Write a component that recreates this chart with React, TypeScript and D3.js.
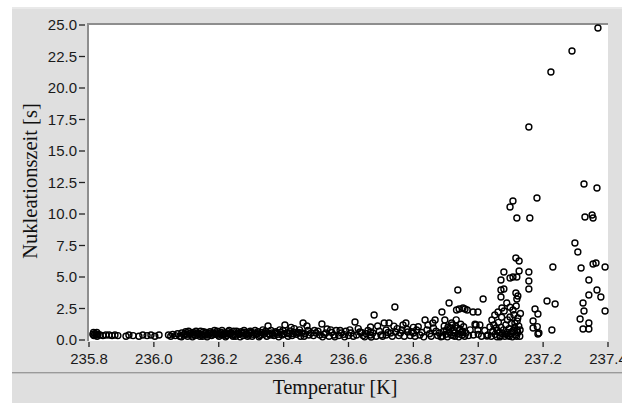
import React from "react";
import * as d3 from "d3";

const xTicks = [235.8, 236.0, 236.2, 236.4, 236.6, 236.8, 237.0, 237.2, 237.4];
const yTicks = [0, 2.5, 5, 7.5, 10, 12.5, 15, 17.5, 20, 22.5, 25];
const xTitle = "Temperatur [K]";
const yTitle = "Nukleationszeit [s]";

// [Temperatur K, Nukleationszeit s]
const lowBandA: [number, number][] = [
  [235.812, 0.45], [235.814, 0.6], [235.815, 0.35], [235.818, 0.5], [235.822, 0.4], [235.824, 0.6],
  [235.825, 0.3], [235.828, 0.45], [235.834, 0.4], [235.843, 0.35], [235.852, 0.4], [235.862, 0.4],
  [235.871, 0.35], [235.880, 0.4], [235.889, 0.35],
  [235.914, 0.3], [235.923, 0.4], [235.936, 0.35], [235.954, 0.3], [235.966, 0.4], [235.979, 0.35],
  [235.991, 0.4], [236.003, 0.3], [236.016, 0.4],
];

const lowBandB: [number, number][] = [
  [236.045, 0.4], [236.052, 0.3], [236.058, 0.45], [236.066, 0.35], [236.073, 0.5], [236.08, 0.3],
  [236.086, 0.55], [236.092, 0.4], [236.098, 0.65], [236.104, 0.3], [236.11, 0.5], [236.116, 0.4],
  [236.121, 0.6], [236.127, 0.35], [236.133, 0.55], [236.139, 0.45], [236.144, 0.7], [236.15, 0.3],
  [236.156, 0.5], [236.161, 0.6], [236.167, 0.4], [236.173, 0.65], [236.178, 0.35], [236.184, 0.55],
  [236.19, 0.45], [236.195, 0.7], [236.201, 0.3], [236.207, 0.6], [236.212, 0.45], [236.218, 0.55],
  [236.224, 0.35], [236.229, 0.65], [236.235, 0.5], [236.241, 0.4], [236.246, 0.7], [236.252, 0.3],
  [236.258, 0.55], [236.263, 0.45], [236.269, 0.65], [236.275, 0.35], [236.28, 0.6], [236.286, 0.5],
  [236.292, 0.4], [236.297, 0.7], [236.303, 0.3], [236.309, 0.55], [236.315, 0.45], [236.321, 0.65],
  [236.327, 0.35], [236.333, 0.6], [236.339, 0.45], [236.345, 0.7], [236.352, 1.11], [236.358, 0.4],
  [236.364, 0.55], [236.37, 0.35], [236.376, 0.65], [236.382, 0.45], [236.388, 0.8], [236.395, 0.4],
  [236.404, 1.19], [236.41, 0.55], [236.42, 0.71], [236.426, 0.35], [236.433, 0.9], [236.44, 0.45],
  [236.446, 0.6], [236.452, 0.3], [236.46, 1.35], [236.466, 0.5], [236.472, 1.11], [236.478, 0.4],
];

const lowBandC: [number, number][] = [
  [236.085, 0.25], [236.095, 0.5], [236.107, 0.7], [236.119, 0.25], [236.13, 0.7], [236.142, 0.3],
  [236.153, 0.65], [236.164, 0.25], [236.176, 0.55], [236.187, 0.75], [236.198, 0.4], [236.21, 0.75],
  [236.221, 0.25], [236.232, 0.75], [236.244, 0.3], [236.255, 0.7], [236.266, 0.25], [236.278, 0.75],
  [236.289, 0.3], [236.3, 0.6], [236.312, 0.75], [236.324, 0.25], [236.336, 0.8], [236.348, 0.3],
  [236.361, 0.75], [236.373, 0.55], [236.385, 0.25], [236.398, 0.75], [236.414, 0.3], [236.423, 1.0],
  [236.436, 0.6], [236.449, 0.8], [236.456, 0.55], [236.463, 0.3], [236.475, 0.75],
];

const lowBandD: [number, number][] = [
  [236.102, 0.45], [236.113, 0.55], [236.124, 0.45], [236.136, 0.5], [236.147, 0.45], [236.158, 0.4],
  [236.17, 0.5], [236.181, 0.45], [236.192, 0.55], [236.204, 0.5], [236.215, 0.4], [236.226, 0.5],
  [236.238, 0.55], [236.249, 0.45], [236.26, 0.5], [236.272, 0.55], [236.283, 0.45], [236.294, 0.55],
  [236.306, 0.45], [236.318, 0.5], [236.33, 0.45], [236.342, 0.55], [236.355, 0.5], [236.367, 0.45],
  [236.379, 0.55], [236.391, 0.6], [236.402, 0.5], [236.417, 0.5], [236.43, 0.5], [236.443, 0.55],
];

const midBand: [number, number][] = [
  [236.485, 0.55], [236.492, 0.35], [236.5, 0.56], [236.506, 0.7], [236.512, 0.4], [236.518, 1.27],
  [236.525, 0.45], [236.534, 0.87], [236.54, 0.3], [236.548, 0.6], [236.555, 0.4], [236.562, 0.75],
  [236.57, 0.35], [236.578, 0.55], [236.585, 0.45], [236.592, 0.7], [236.6, 0.35], [236.608, 0.55],
  [236.62, 1.43], [236.625, 0.4], [236.635, 0.63], [236.645, 0.35], [236.655, 0.5], [236.668, 1.03],
  [236.668, 0.63], [236.668, 0.4], [236.67, 0.24], [236.679, 1.98], [236.69, 1.11], [236.695, 0.7],
  [236.7, 0.4], [236.705, 0.3], [236.71, 1.35], [236.716, 0.79], [236.716, 0.4], [236.722, 0.6],
  [236.725, 1.35], [236.73, 0.55], [236.735, 0.3], [236.743, 2.62], [236.745, 0.63], [236.75, 0.9],
  [236.755, 0.35], [236.76, 0.55], [236.768, 1.19], [236.772, 0.3], [236.777, 1.35], [236.78, 0.85],
  [236.783, 0.63], [236.79, 0.35], [236.795, 0.65], [236.8, 0.55], [236.805, 0.3], [236.81, 0.79],
  [236.815, 1.05], [236.82, 0.4], [236.826, 0.6], [236.832, 0.25], [236.836, 1.59], [236.842, 0.8],
  [236.845, 1.19], [236.85, 0.5], [236.855, 0.3], [236.86, 1.35], [236.862, 0.95], [236.867, 1.59],
  [236.87, 0.7], [236.875, 0.35], [236.88, 0.55], [236.885, 0.25],
  [236.495, 0.75], [236.52, 0.25], [236.53, 0.55], [236.545, 0.8], [236.558, 0.25], [236.574, 0.75],
  [236.588, 0.25], [236.604, 0.8], [236.615, 0.3], [236.63, 0.9], [236.64, 0.6], [236.65, 0.25],
  [236.66, 0.75], [236.675, 0.55], [236.685, 0.3], [236.74, 1.1], [236.765, 0.8], [236.8, 1.0],
];

const risingCluster: [number, number][] = [
  [236.888, 2.22], [236.89, 0.3], [236.893, 0.7], [236.895, 1.1], [236.897, 1.59], [236.9, 0.45],
  [236.905, 0.25], [236.907, 1.03], [236.91, 2.94], [236.912, 0.6], [236.915, 0.95], [236.918, 1.35],
  [236.92, 1.19], [236.922, 0.35], [236.925, 0.75], [236.928, 0.3], [236.93, 1.1], [236.932, 1.6],
  [236.933, 2.38], [236.935, 0.95], [236.937, 3.97], [236.938, 0.5], [236.94, 0.25], [236.941, 2.46],
  [236.943, 0.85], [236.946, 1.25], [236.95, 0.4], [236.952, 0.7], [236.953, 2.54], [236.955, 1.05],
  [236.958, 0.3], [236.959, 2.46], [236.962, 0.55], [236.966, 2.38], [236.97, 0.35], [236.975, 0.8],
  [236.984, 2.22], [236.985, 0.4], [236.99, 1.25], [236.993, 1.19], [236.999, 2.22], [236.999, 0.79],
  [237.0, 0.45], [237.005, 1.19], [237.01, 0.3], [237.015, 3.25], [237.02, 0.75], [237.027, 0.32],
  [237.03, 0.4], [237.036, 1.03], [237.04, 0.3], [237.042, 1.59], [237.045, 0.7], [237.048, 1.2],
  [237.051, 1.98], [237.052, 0.45], [237.055, 0.95], [237.058, 0.25], [237.061, 2.22], [237.062, 1.4],
  [237.065, 0.6], [237.068, 0.35], [237.07, 1.0], [237.072, 1.8], [237.073, 2.54], [237.075, 0.5],
  [237.078, 0.8], [237.08, 2.3], [237.082, 0.3], [237.085, 1.2], [237.088, 2.94], [237.088, 0.6],
  [237.09, 1.6], [237.092, 0.35], [237.095, 0.9], [237.098, 2.6], [237.098, 1.83], [237.1, 0.5],
  [237.102, 1.3], [237.105, 0.25], [237.107, 2.38], [237.108, 0.75], [237.11, 2.0], [237.112, 1.0],
  [237.113, 1.35], [237.115, 0.4], [237.117, 2.7], [237.119, 0.79], [237.12, 1.5], [237.122, 1.75],
  [237.122, 0.6], [237.125, 1.1], [237.128, 0.3], [237.129, 0.79], [237.13, 2.1],
  [236.902, 0.8], [236.917, 0.4], [236.927, 0.55], [236.948, 0.6], [237.058, 0.75], [237.067, 0.25],
  [237.086, 0.45], [237.096, 0.3], [237.104, 0.65], [237.118, 0.3],
];

const upperScatter: [number, number][] = [
  [237.369, 24.76], [237.289, 22.94], [237.224, 21.27], [237.156, 16.9], [237.181, 11.27],
  [237.107, 11.03], [237.098, 10.56], [237.119, 9.68], [237.159, 9.68], [237.326, 12.38],
  [237.366, 12.06], [237.329, 9.76], [237.351, 9.92], [237.354, 9.68], [237.298, 7.7],
  [237.307, 6.98], [237.116, 6.51], [237.126, 6.27], [237.23, 5.79], [237.317, 5.71],
  [237.354, 6.03], [237.363, 6.11], [237.391, 5.79], [237.079, 5.4], [237.126, 5.48],
  [237.156, 5.4], [237.07, 4.76], [237.098, 4.92], [237.107, 5.0], [237.119, 5.0],
  [237.156, 4.68], [237.341, 4.76], [237.07, 3.97], [237.079, 4.05], [237.156, 4.05],
  [237.341, 3.57], [237.366, 3.97], [237.378, 3.41], [237.116, 3.73], [237.122, 3.49],
  [237.119, 3.25], [237.07, 3.41], [237.212, 3.1], [237.237, 2.86], [237.323, 2.94],
  [237.326, 2.3], [237.391, 2.3], [237.175, 2.46], [237.184, 2.06], [237.314, 1.67],
  [237.341, 1.35], [237.323, 0.87], [237.341, 0.87], [237.227, 0.79], [237.169, 1.51],
  [237.169, 0.95], [237.184, 0.48], [237.182, 1.06], [237.187, 0.56],
];

const allPoints = [
  ...lowBandA, ...lowBandB, ...lowBandC, ...lowBandD, ...midBand, ...risingCluster, ...upperScatter,
];

const W = 622;
const H = 403;
const plot = { left: 88, right: 608, top: 24, bottom: 341 };

export default function App() {
  const x = d3.scaleLinear().domain([235.8, 237.4]).range([89, 608]);
  const y = d3.scaleLinear().domain([0, 25]).range([340, 25]);
  const tickFont = "'Liberation Sans', Arial, sans-serif";
  const titleFont = "'Liberation Serif', 'Times New Roman', serif";
  return (
    <svg
      width={W}
      height={H}
      style={{ position: "fixed", left: 0, top: 0, background: "#fff" }}
    >
      <rect x={12} y={7} width={W - 12} height={H - 7} fill="#dfdfdf" />
      <rect x={12} y={7} width={W - 12} height={2} fill="#e9e9e9" />
      <rect x={12} y={372} width={W - 12} height={1} fill="#9a9a9a" />
      <rect x={12} y={373} width={W - 12} height={1} fill="#c4c4c4" />
      <rect
        x={plot.left}
        y={plot.top}
        width={plot.right - plot.left}
        height={plot.bottom - plot.top}
        fill="#ffffff"
      />
      <rect x={plot.left - 1} y={plot.top - 1} width={plot.right - plot.left + 1} height={2} fill="#8e8e8e" />
      <rect x={plot.left - 1} y={plot.top - 1} width={2} height={plot.bottom - plot.top + 1} fill="#8e8e8e" />
      {yTicks.map((t) => (
        <g key={"y" + t}>
          <line x1={79} x2={85} y1={y(t)} y2={y(t)} stroke="#222" strokeWidth={1.3} />
          <text
            x={77}
            y={y(t)}
            dy="0.36em"
            textAnchor="end"
            fontFamily={tickFont}
            fontSize={15}
            fill="#1a1a1a"
          >
            {t.toFixed(1)}
          </text>
        </g>
      ))}
      {xTicks.map((t) => (
        <g key={"x" + t}>
          <line x1={x(t)} x2={x(t)} y1={342} y2={347} stroke="#222" strokeWidth={1.3} />
          <text
            x={x(t)}
            y={364}
            textAnchor="middle"
            fontFamily={tickFont}
            fontSize={15}
            fill="#1a1a1a"
          >
            {t.toFixed(1)}
          </text>
        </g>
      ))}
      <g>
        {allPoints.map((p, i) => (
          <circle
            key={i}
            cx={x(p[0])}
            cy={y(p[1])}
            r={3}
            fill="none"
            stroke="#000"
            strokeWidth={1.4}
          />
        ))}
      </g>
      <text
        x={335}
        y={394}
        textAnchor="middle"
        fontFamily={titleFont}
        fontSize={20}
        fill="#111"
      >
        {xTitle}
      </text>
      <text
        transform={`translate(37,181) rotate(-90)`}
        textAnchor="middle"
        fontFamily={titleFont}
        fontSize={20.5}
        fill="#111"
      >
        {yTitle}
      </text>
    </svg>
  );
}
